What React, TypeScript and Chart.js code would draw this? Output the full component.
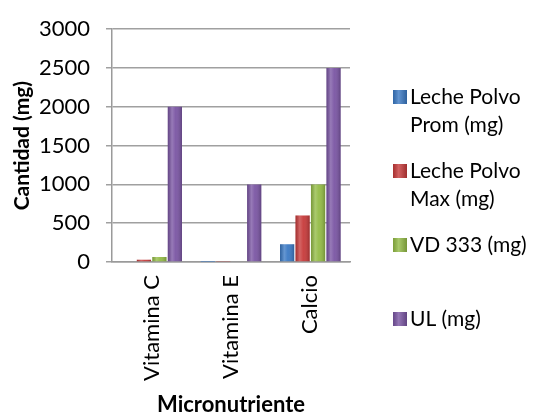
import React, { useEffect, useRef } from "react";
import { Chart, registerables } from "chart.js";

Chart.register(...registerables);

const categories = ["Vitamina C", "Vitamina E", "Calcio"];
const seriesNames = ["Leche Polvo Prom (mg)", "Leche Polvo Max (mg)", "VD 333 (mg)", "UL (mg)"];
const promValues = [10, 2, 230];
const maxValues = [30, 5, 600];
const vdValues = [65, 10, 1000];
const ulValues = [2000, 1000, 2500];
const seriesColors = ["#3A79C4", "#C73A3A", "#93BB45", "#7A55A3"];
const yTicks = [0, 500, 1000, 1500, 2000, 2500, 3000];

const FONT = "Lato, 'Open Sans', sans-serif";

const shadePlugin = {
  id: "barShade",
  afterDatasetsDraw(chart: any) {
    const ctx = chart.ctx;
    ctx.save();
    chart.data.datasets.forEach((_: any, i: number) => {
      const meta = chart.getDatasetMeta(i);
      meta.data.forEach((bar: any) => {
        const { x, y, base, width } = bar.getProps(["x", "y", "base", "width"], true);
        const l = x - width / 2;
        const h = base - y;
        if (h <= 0) return;
        const g = ctx.createLinearGradient(l, 0, l + width, 0);
        g.addColorStop(0, "rgba(0,0,0,0.18)");
        g.addColorStop(0.3, "rgba(255,255,255,0.22)");
        g.addColorStop(0.55, "rgba(255,255,255,0.05)");
        g.addColorStop(1, "rgba(0,0,0,0.22)");
        ctx.fillStyle = g;
        ctx.fillRect(l, y, width, h);
      });
    });
    ctx.restore();
  },
};

const legendPlugin = {
  id: "customLegend",
  afterDraw(chart: any) {
    const ctx = chart.ctx;
    const area = chart.chartArea;
    const x0 = area.right + 43;
    const textX = x0 + 17;
    const maxW = 124;
    const lineH = 28;
    const firstY = 97;
    const step = 74;
    ctx.save();
    ctx.font = `21px ${FONT}`;
    ctx.textBaseline = "middle";
    ctx.textAlign = "left";
    chart.data.datasets.forEach((ds: any, i: number) => {
      const y = firstY + i * step;
      ctx.fillStyle = ds.backgroundColor;
      ctx.fillRect(x0, y - 7, 14, 14);
      const g = ctx.createLinearGradient(x0, 0, x0 + 14, 0);
      g.addColorStop(0, "rgba(0,0,0,0.15)");
      g.addColorStop(0.4, "rgba(255,255,255,0.2)");
      g.addColorStop(1, "rgba(0,0,0,0.2)");
      ctx.fillStyle = g;
      ctx.fillRect(x0, y - 7, 14, 14);
      const words = String(ds.label).split(" ");
      const lines: string[] = [];
      let cur = "";
      words.forEach((w) => {
        const test = cur ? cur + " " + w : w;
        if (ctx.measureText(test).width > maxW && cur) {
          lines.push(cur);
          cur = w;
        } else cur = test;
      });
      if (cur) lines.push(cur);
      ctx.fillStyle = "#000";
      lines.forEach((l, j) => ctx.fillText(l, textX, y + j * lineH));
    });
    ctx.restore();
  },
};

export default function App() {
  const ref = useRef<HTMLCanvasElement | null>(null);
  useEffect(() => {
    if (!ref.current) return;
    const values = [promValues, maxValues, vdValues, ulValues];
    const chart = new Chart(ref.current, {
      type: "bar",
      data: {
        labels: categories,
        datasets: seriesNames.map((name, i) => ({
          label: name,
          data: values[i],
          backgroundColor: seriesColors[i],
          borderWidth: 0,
          categoryPercentage: 0.78,
          barPercentage: 0.92,
        })),
      },
      plugins: [shadePlugin, legendPlugin],
      options: {
        responsive: false,
        animation: false,
        layout: { padding: { top: 22, right: 186, left: 0, bottom: 0 } },
        plugins: { legend: { display: false }, tooltip: { enabled: false } },
        scales: {
          x: {
            grid: { display: false, drawTicks: false, tickLength: 0 },
            border: { display: true, color: "#9a9a9a", width: 1.5 },
            ticks: {
              color: "#000",
              font: { family: FONT, size: 22 },
              minRotation: 90,
              maxRotation: 90,
              padding: 13,
            },
            title: {
              display: true,
              text: "Micronutriente",
              color: "#000",
              font: { family: FONT, size: 22, weight: "bold" },
              padding: { top: 0, bottom: 0 },
            },
            afterFit: (s: any) => {
              s.height = 156;
            },
          },
          y: {
            min: 0,
            max: 3000,
            afterBuildTicks: (s: any) => {
              s.ticks = yTicks.map((v) => ({ value: v }));
            },
            grid: { color: "#a0a0a0", lineWidth: 1.5, drawTicks: true, tickLength: 6 },
            border: { display: true, color: "#9a9a9a", width: 1.5 },
            ticks: {
              color: "#000",
              font: { family: FONT, size: 22 },
              padding: 16,
              callback: (v: any) => String(v),
            },
            title: {
              display: true,
              text: "Cantidad (mg)",
              color: "#000",
              font: { family: FONT, size: 21, weight: "bold" },
              padding: { top: 10, bottom: 0 },
            },
            afterFit: (s: any) => {
              s.width = 112;
            },
          },
        },
      },
    });
    return () => chart.destroy();
  }, []);
  return (
    <div style={{ position: "absolute", left: 0, top: 0, width: 536, height: 418, background: "#fff" }}>
      <canvas ref={ref} width={536} height={418} style={{ width: 536, height: 418 }} />
    </div>
  );
}
